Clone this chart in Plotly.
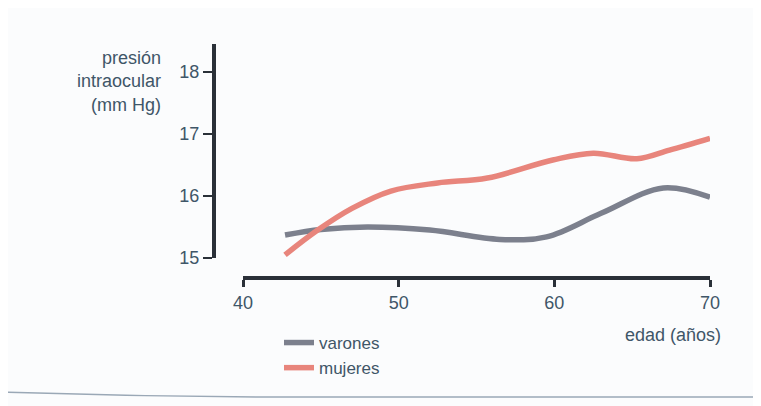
import plotly.graph_objects as go

# Page body adds an 8px margin, so the figure is drawn at (8, 8)
OFF = 8
W, H = 761 - OFF, 406 - OFF

# Data
age_varones = [42.7, 45.0, 48.0, 52.0, 56.5, 59.5, 63.0, 67.0, 70.0]
val_varones = [15.37, 15.46, 15.50, 15.45, 15.30, 15.34, 15.72, 16.13, 15.98]
age_mujeres = [42.7, 44.8, 47.0, 49.5, 52.5, 55.7, 59.9, 62.5, 65.3, 67.4, 70.0]
val_mujeres = [15.05, 15.45, 15.80, 16.08, 16.21, 16.29, 16.58, 16.69, 16.60, 16.74, 16.93]
x_ticks = [40, 50, 60, 70]
y_ticks = [15, 16, 17, 18]

TEXT = "#3f5668"
AXIS = "#2a3038"
FONT = "Liberation Sans, Arial, sans-serif"
FS = 18

def px(x):
    return (x - OFF) / W

def py(y):
    return 1 - (y - OFF) / H

fig = go.Figure()
fig.add_trace(go.Scatter(x=age_varones, y=val_varones, mode="lines", name="varones",
                         line=dict(color="#7c808d", width=5.5, shape="spline", smoothing=1.0)))
fig.add_trace(go.Scatter(x=age_mujeres, y=val_mujeres, mode="lines", name="mujeres",
                         line=dict(color="#e8857c", width=5.5, shape="spline", smoothing=1.0)))

fig.update_layout(
    width=W, height=H,
    margin=dict(l=0, r=0, t=0, b=0, autoexpand=False),
    paper_bgcolor="#fbfcfd", plot_bgcolor="rgba(0,0,0,0)",
    font=dict(family=FONT, size=FS, color=TEXT),
    showlegend=True,
    legend=dict(x=px(279), y=py(325), xanchor="left", yanchor="top",
                bgcolor="rgba(0,0,0,0)", font=dict(size=17, color=TEXT),
                tracegroupgap=0, itemwidth=30),
    xaxis=dict(domain=[px(243), px(710)], range=[40, 70], anchor="free", position=py(278),
               tickvals=x_ticks, ticks="outside", ticklen=7, tickwidth=3, tickcolor=AXIS,
               showline=True, linewidth=4, linecolor=AXIS, showgrid=False, zeroline=False,
               tickfont=dict(size=FS, color=TEXT)),
    yaxis=dict(domain=[py(258), py(44)], range=[15, 18.45], anchor="free", position=px(214),
               tickvals=y_ticks, ticks="outside", ticklen=9, tickwidth=2, tickcolor=AXIS,
               showline=True, linewidth=4, linecolor=AXIS, showgrid=False, zeroline=False,
               tickfont=dict(size=FS, color=TEXT)),
)

fig.add_annotation(x=px(163), y=py(46), xref="paper", yref="paper", xanchor="right", yanchor="top",
                   text="presión<br>intraocular<br>(mm Hg)", showarrow=False, align="right",
                   font=dict(size=FS, color=TEXT))
fig.add_annotation(x=px(723), y=py(335), xref="paper", yref="paper", xanchor="right", yanchor="middle",
                   text="edad (años)", showarrow=False, align="right",
                   font=dict(size=FS, color=TEXT))

fig.add_shape(type="path", xref="paper", yref="paper",
              path=f"M {px(0)},{py(392)} Q {px(150)},{py(397)} {px(300)},{py(397)} L 1,{py(397)}",
              line=dict(color="#9aa8b6", width=1.5))

fig.write_html("out.html")
